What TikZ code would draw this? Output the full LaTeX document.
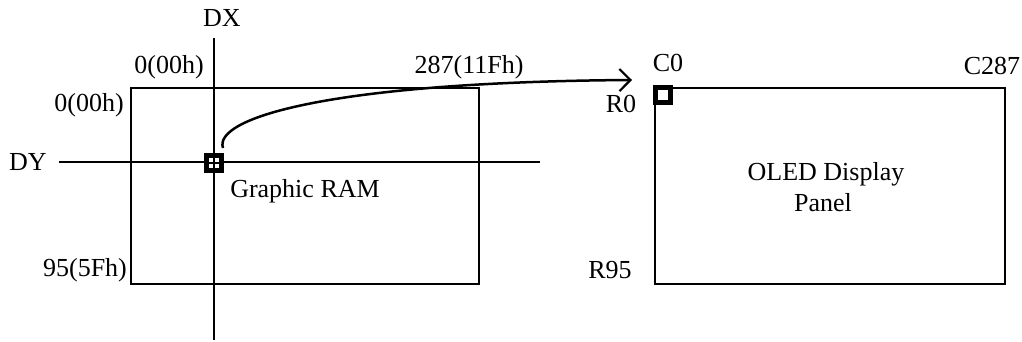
\documentclass[tikz,border=0pt]{standalone}
\usepackage{fontspec}
\setmainfont{Liberation Serif}
\usetikzlibrary{arrows.meta}
\begin{document}
\begin{tikzpicture}[x=1pt,y=-1pt,
  lbl/.style={inner sep=0pt,font=\fontsize{26}{30}\selectfont},
  thin/.style={line width=1.3pt},
  pix/.style={draw=black,fill=white,line width=5pt,minimum size=15pt,inner sep=0pt}]
\useasboundingbox (0,0) rectangle (1022,342);
% RAM
\draw[thin] (131,88) rectangle (479,284);
\coordinate (dxt) at (214,38);
\coordinate (dxb) at (214,340);
\coordinate (dyl) at (59,162);
\coordinate (dyr) at (540,162);
\draw[thin] (dxt) -- (dxb);
\draw[thin] (dyl) -- (dyr);
\node[pix] (p1) at (214,163) {};
\draw[line width=2pt,black] (p1.center) ++(-6,0) -- ++(12,0);
\draw[line width=2pt,black] (p1.center) ++(0,-6) -- ++(0,12);
% Panel
\draw[thin] (655,88) rectangle (1005,284);
\node[pix] (p2) at (663,95) {};
% arrow
\coordinate (as) at (223,148);
\coordinate (ae) at (632,80);
\draw[line width=2.5pt,-{Straight Barb[length=11pt,width=22pt,line width=2.2pt]}] (as) .. controls (213,118) and (330,82) .. (ae);
% labels
\node[lbl] (dx) at (222,18) {DX};
\node[lbl] (c00) at (169,67) {0(00h)};
\node[lbl] (c11f) at (469,67) {287(11Fh)};
\node[lbl] (r00) at (89,105) {0(00h)};
\node[lbl] (dy) at (28,162) {DY};
\node[lbl] (gram) at (305,191) {Graphic RAM};
\node[lbl] (r5f) at (85,270) {95(5Fh)};
\node[lbl] (c0) at (668,63) {C0};
\node[lbl] (c287) at (992,66) {C287};
\node[lbl] (r0) at (621,104) {R0};
\node[lbl] (oled) at (826,174) {OLED Display};
\node[lbl] (panel) at (823,203) {Panel};
\node[lbl] (r95) at (610,270) {R95};
\end{tikzpicture}
\end{document}
